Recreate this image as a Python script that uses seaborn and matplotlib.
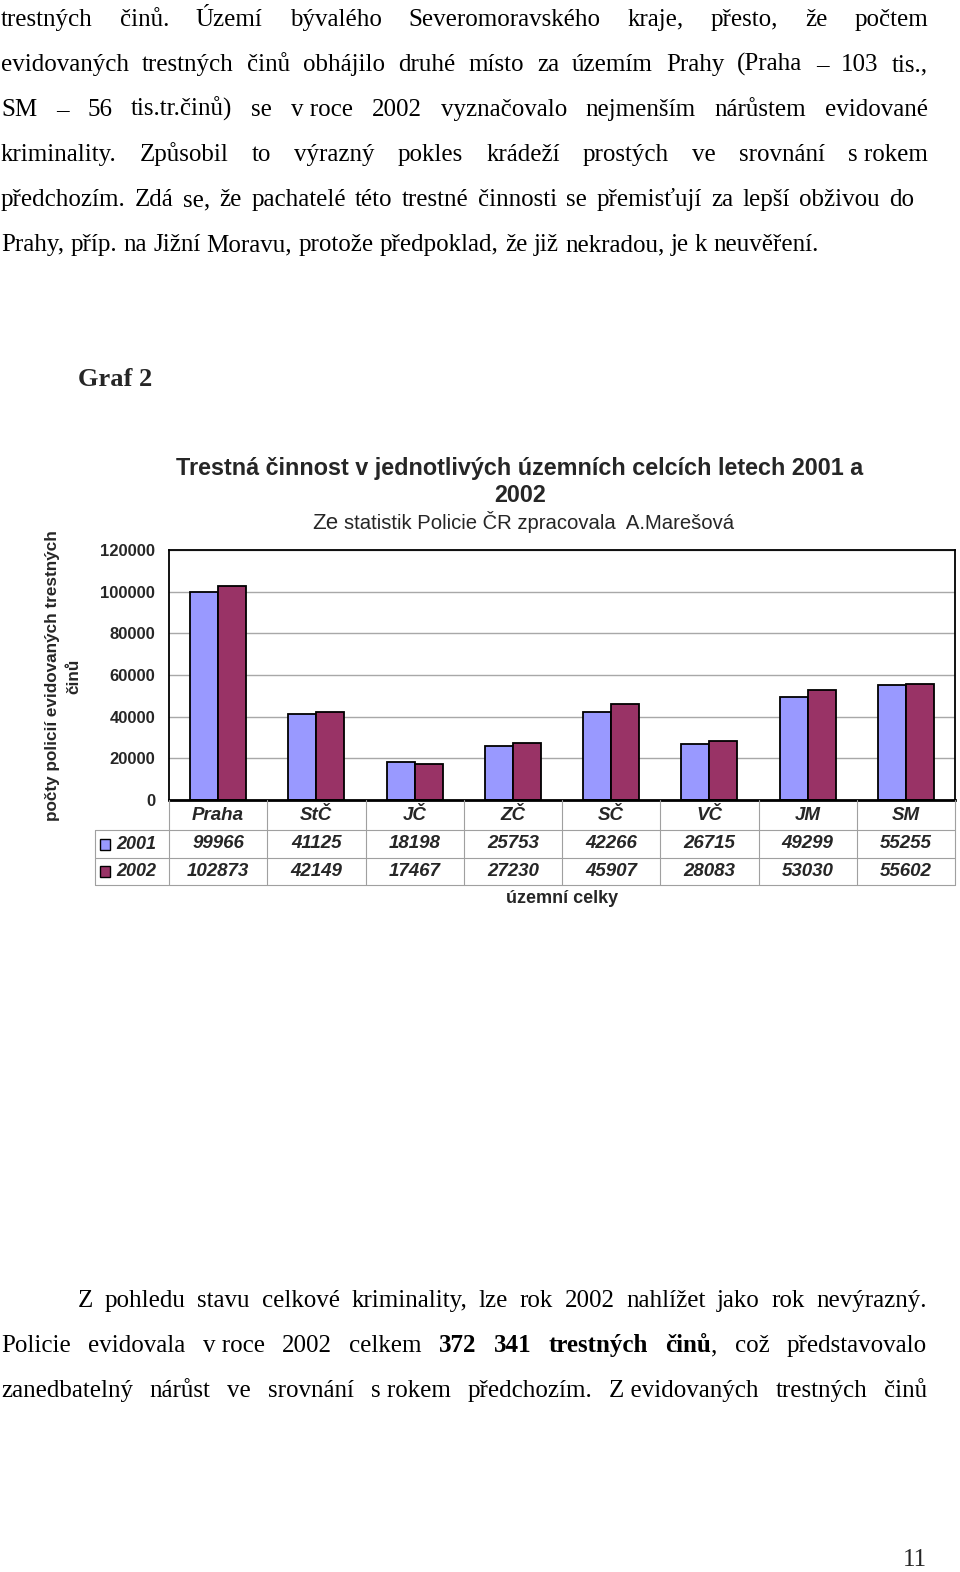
import matplotlib
matplotlib.use('Agg')
import matplotlib.pyplot as plt
import matplotlib.transforms as mtransforms
from matplotlib.lines import Line2D
from matplotlib.patches import Rectangle
import seaborn as sns
import pandas as pd

# ---------------- data ----------------
regions = ['Praha', 'StČ', 'JČ', 'ZČ', 'SČ', 'VČ', 'JM', 'SM']
years = ['2001', '2002']
values_2001 = [99966, 41125, 18198, 25753, 42266, 26715, 49299, 55255]
values_2002 = [102873, 42149, 17467, 27230, 45907, 28083, 53030, 55602]
y_ticks = [0, 20000, 40000, 60000, 80000, 100000, 120000]

title_line1 = 'Trestná činnost v jednotlivých územních celcích letech 2001 a'
title_line2 = '2002'
subtitle_a = 'Ze'
subtitle_b = 'statistik Policie ČR zpracovala  A.Marešová'
y_label = 'počty policií evidovaných trestných\nčinů'
x_label = 'územní celky'

colors = ['#9999FF', '#993366']

# ---------------- figure ----------------
sns.set_theme(style='white')
plt.rcParams['font.family'] = ['Liberation Sans', 'DejaVu Sans']

W, H = 960, 1572
fig = plt.figure(figsize=(W / 100, H / 100), dpi=100)
fig.patch.set_facecolor('white')


def fx(x):
    return x / W


def fy(y):
    return 1 - y / H


renderer = fig.canvas.get_renderer()
SERIF = ['Liberation Serif', 'DejaVu Serif']
DOC_SIZE = 18


def measure(s, weight='normal', size=DOC_SIZE, family=SERIF):
    t = fig.text(0, 0, s, fontsize=size, weight=weight, family=family)
    w = t.get_window_extent(renderer).width
    t.remove()
    return w


SPACE = measure('a a') - measure('aa')


def toks(s, weight='normal'):
    return [[(w.replace('~', ' '), weight)] for w in s.split(' ') if w]


def draw_line(tokens, yc, x0, x1=None, justify=True, size=DOC_SIZE):
    widths = [sum(measure(t, wt, size) for t, wt in tok) for tok in tokens]
    total = sum(widths)
    if justify and x1 is not None and len(tokens) > 1:
        gap = (x1 - x0 - total) / (len(tokens) - 1)
    else:
        gap = SPACE
    x = x0
    for tok, w in zip(tokens, widths):
        xx = x
        for t, wt in tok:
            fig.text(fx(xx), fy(yc + 9), t, fontsize=size, weight=wt,
                     family=SERIF, ha='left', va='baseline', color='black')
            xx += measure(t, wt, size)
        x += w + gap


# top paragraph
top_lines = [
    ('trestných činů. Území bývalého Severomoravského kraje, přesto, že počtem', 928, True),
    ('evidovaných trestných činů obhájilo druhé místo za územím Prahy (Praha – 103 tis.,', 928, True),
    ('SM – 56 tis.tr.činů) se v~roce 2002 vyznačovalo nejmenším nárůstem evidované', 928, True),
    ('kriminality. Způsobil to výrazný pokles krádeží prostých ve srovnání s~rokem', 928, True),
    ('předchozím. Zdá se, že pachatelé této trestné činnosti se přemisťují za lepší obživou do', 914, True),
    ('Prahy, příp. na Jižní Moravu, protože předpoklad, že již nekradou, je k neuvěření.', None, False),
]
for i, (s, x1, j) in enumerate(top_lines):
    draw_line(toks(s), 17 + 45 * i, 1, x1, j)

# bottom paragraph
draw_line(toks('Z pohledu stavu celkové kriminality, lze rok 2002 nahlížet jako rok nevýrazný.'),
          1298, 78, 927, True)
b2 = (toks('Policie evidovala v~roce 2002 celkem')
      + toks('372 341 trestných', 'bold')
      + [[('činů', 'bold'), (',', 'normal')]]
      + toks('což představovalo'))
draw_line(b2, 1343, 1, 927, True)
draw_line(toks('zanedbatelný nárůst ve srovnání s~rokem předchozím. Z~evidovaných trestných činů'),
          1388, 1, 927, True)

# Graf 2 heading and page number
fig.text(fx(78), fy(377 + 9), 'Graf 2', fontsize=19, weight='bold', family=SERIF,
         ha='left', va='baseline')
fig.text(fx(927), fy(1557 + 9), '11', fontsize=DOC_SIZE, family=SERIF,
         ha='right', va='baseline')

# ---------------- chart ----------------
L, R, T, B = 169, 955, 550, 800
ax = fig.add_axes([fx(L), fy(B), (R - L) / W, (B - T) / H])

df = pd.DataFrame({
    'region': regions * 2,
    'year': [years[0]] * len(regions) + [years[1]] * len(regions),
    'value': values_2001 + values_2002,
})
sns.barplot(data=df, x='region', y='value', hue='year', order=regions,
            hue_order=years, palette=colors, width=0.57, edgecolor='black',
            linewidth=1.3, saturation=1, legend=False, ax=ax, errorbar=None)

ax.set_xlim(-0.5, len(regions) - 0.5)
ax.set_ylim(0, 120000)
ax.set_yticks(y_ticks)
ax.set_yticklabels([str(v) for v in y_ticks], fontsize=12, weight='bold')
ax.tick_params(axis='y', length=0, pad=10)
ax.set_xticks([])
ax.set_xlabel('')
ax.set_ylabel('')
ax.yaxis.grid(True, color='#a8a8a8', linewidth=1)
ax.set_axisbelow(True)
for side in ['left', 'right', 'top']:
    ax.spines[side].set_color('black')
    ax.spines[side].set_linewidth(1.3)
ax.spines['bottom'].set_color('black')
ax.spines['bottom'].set_linewidth(2)
ax.set_facecolor('white')

# titles
fig.text(fx(520), fy(469), title_line1, ha='center', va='center', fontsize=16.8, weight='bold')
fig.text(fx(520), fy(496), title_line2, ha='center', va='center', fontsize=16.8, weight='bold')
wa = measure(subtitle_a + ' ', 'normal', 16, ['Liberation Sans'])
wb = measure(subtitle_b, 'normal', 14.6, ['Liberation Sans'])
sx = 523 - (wa + wb) / 2
fig.text(fx(sx), fy(529), subtitle_a, ha='left', va='baseline', fontsize=16)
fig.text(fx(sx + wa), fy(529), subtitle_b, ha='left', va='baseline', fontsize=14.6)
fig.text(fx(63), fy(676), y_label, rotation=90, ha='center', va='center',
         multialignment='center', fontsize=12.3, weight='bold', linespacing=1.55)
fig.text(fx(562), fy(899), x_label, ha='center', va='center', fontsize=13, weight='bold')

# data table under the axis
tr = mtransforms.blended_transform_factory(ax.transData, fig.transFigure)
grid_c = '#a0a0a0'
for k in range(len(regions) + 1):
    fig.add_artist(Line2D([k - 0.5, k - 0.5], [fy(B), fy(885)], transform=tr,
                          color=grid_c, lw=0.8))
for yy in [830, 858, 885]:
    fig.add_artist(Line2D([fx(95), fx(R)], [fy(yy), fy(yy)], color=grid_c, lw=0.8))
fig.add_artist(Line2D([fx(95), fx(95)], [fy(830), fy(885)], color=grid_c, lw=0.8))

for i, reg in enumerate(regions):
    fig.text(i, fy(815), reg, transform=tr, ha='center', va='center',
             fontsize=13.5, weight='bold', style='italic')
    fig.text(i, fy(844), str(values_2001[i]), transform=tr, ha='center', va='center',
             fontsize=13.5, weight='bold', style='italic')
    fig.text(i, fy(871), str(values_2002[i]), transform=tr, ha='center', va='center',
             fontsize=13.5, weight='bold', style='italic')

for yc, yr, c in [(844, years[0], colors[0]), (871, years[1], colors[1])]:
    fig.add_artist(Rectangle((fx(100), fy(yc + 6)), 10 / W, 11 / H,
                             facecolor=c, edgecolor='black', lw=1))
    fig.text(fx(116), fy(yc + 1), yr, ha='left', va='center', fontsize=13,
             weight='bold', style='italic')

fig.savefig('out.png', dpi=100, facecolor='white')
